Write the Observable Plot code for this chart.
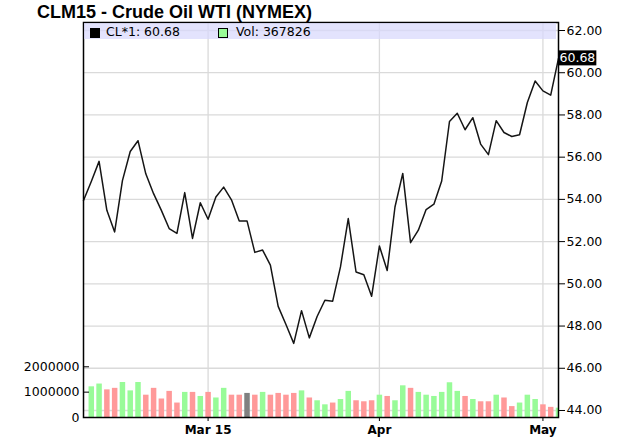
<!DOCTYPE html>
<html><head><meta charset="utf-8">
<script src="https://cdn.jsdelivr.net/npm/d3@7"></script>
<script src="https://cdn.jsdelivr.net/npm/@observablehq/plot@0.6"></script>
<style>
html,body{margin:0;padding:0;background:#fff;}
#chart{position:relative;width:620px;height:437px;overflow:hidden;}
#chart svg{position:absolute;left:0;top:0;}
.title{position:absolute;left:37px;top:3px;font:bold 18px/18px "Liberation Sans",Arial,sans-serif;color:#000;white-space:nowrap;}
.legend{position:absolute;left:84px;top:23px;width:472px;height:16px;background:rgba(216,216,252,0.72);}
.legend .sw{position:absolute;top:5px;width:8px;height:8px;border:1px solid #000;}
.legend .lt{position:absolute;top:1px;font:12.5px/16px "DejaVu Sans",sans-serif;color:#000;white-space:nowrap;}
</style></head>
<body>
<div id="chart"></div>
<script>
// ---- data ----
const titleText = "CLM15 - Crude Oil WTI (NYMEX)";
const seriesName = "CL*1";
const volumeName = "Vol";
const dates = [
 "2015-02-05","2015-02-06","2015-02-09","2015-02-10","2015-02-11","2015-02-12","2015-02-13","2015-02-17",
 "2015-02-18","2015-02-19","2015-02-20","2015-02-23","2015-02-24","2015-02-25","2015-02-26","2015-02-27",
 "2015-03-02","2015-03-03","2015-03-04","2015-03-05","2015-03-06","2015-03-09","2015-03-10","2015-03-11",
 "2015-03-12","2015-03-13","2015-03-16","2015-03-17","2015-03-18","2015-03-19","2015-03-20","2015-03-23",
 "2015-03-24","2015-03-25","2015-03-26","2015-03-27","2015-03-30","2015-03-31","2015-04-01","2015-04-02",
 "2015-04-06","2015-04-07","2015-04-08","2015-04-09","2015-04-10","2015-04-13","2015-04-14","2015-04-15",
 "2015-04-16","2015-04-17","2015-04-20","2015-04-21","2015-04-22","2015-04-23","2015-04-24","2015-04-27",
 "2015-04-28","2015-04-29","2015-04-30","2015-05-01","2015-05-04","2015-05-05"];
const closes = [
 53.95,54.85,55.80,53.48,52.46,54.89,56.27,56.78,55.21,54.27,53.48,52.62,52.39,54.32,52.15,53.84,
 53.06,54.11,54.58,53.98,52.98,52.98,51.49,51.60,50.89,48.93,48.07,47.18,48.73,47.44,48.45,49.22,
 49.18,50.80,53.09,50.56,50.43,49.41,51.79,50.63,53.64,55.23,51.95,52.54,53.52,53.77,54.87,57.69,
 58.08,57.30,57.87,56.62,56.12,57.73,57.17,56.98,57.06,58.59,59.61,59.14,58.94,60.68];
const volumes = [
 null,1210000,1320000,1090000,1150000,1380000,1050000,1380000,880000,1150000,730000,1030000,570000,990000,990000,830000,
 990000,770000,1150000,880000,880000,950000,880000,990000,880000,950000,880000,950000,1050000,770000,660000,500000,
 570000,710000,1030000,660000,620000,660000,880000,830000,660000,1250000,1150000,990000,880000,830000,990000,1370000,
 1030000,830000,710000,620000,620000,880000,770000,430000,570000,880000,710000,500000,400000,367826];
const xTickDates = ["2015-03-02","2015-04-01","2015-05-01"];
const xTickLabels = ["Mar 15","Apr","May"];
const priceTicks = [44,46,48,50,52,54,56,58,60,62];
const volumeTicks = [0,1000000,2000000];

// ---- build ----
const UP = "#98fb98", DOWN = "#ff9999", FLAT = "#808080";
const data = dates.map((date,i)=>({i, date, close:closes[i], vol:volumes[i], chg: i>0 ? closes[i]-closes[i-1] : 0}));
const xTicks = xTickDates.map(d=>dates.indexOf(d));
const W=620, H=437, mL=83, mR=62, mT=22, mB=20;
const xDomain=[0, dates.length-1];
const last = data[data.length-1];

const pricePlot = Plot.plot({
  width:W, height:H, marginLeft:mL, marginRight:mR, marginTop:mT, marginBottom:mB,
  style:{background:"transparent", fontFamily:"DejaVu Sans", fontSize:"12.5px", color:"#000", overflow:"visible"},
  x:{domain:xDomain, axis:null},
  y:{domain:[43.668, 62.379], axis:null},
  marks:[
    Plot.gridY(priceTicks,{stroke:"#dadada", strokeOpacity:1, strokeWidth:1.3}),
    Plot.gridX(xTicks,{stroke:"#dadada", strokeOpacity:1, strokeWidth:1.3}),
    Plot.line(data,{x:"i", y:"close", stroke:"#151515", strokeWidth:1.5}),
    Plot.axisY(priceTicks,{anchor:"right", label:null, tickSize:6, tickPadding:2, tickFormat:d=>d.toFixed(2), fontSize:12.5}),
    Plot.text([last],{x:"i", y:"close", text:d=>d.close.toFixed(2), textAnchor:"start", dx:1, fill:"white", fontSize:12.5, className:"lastval"})
  ]
});

const volPlot = Plot.plot({
  width:W, height:H, marginLeft:mL, marginRight:mR, marginTop:mT, marginBottom:mB,
  style:{background:"transparent", fontFamily:"DejaVu Sans", fontSize:"12.5px", color:"#000", overflow:"visible"},
  x:{domain:xDomain, axis:null},
  y:{domain:[0, 15.58e6], axis:null},
  color:{type:"identity"},
  marks:[
    Plot.ruleX(data.filter(d=>d.vol!=null),{x:"i", y1:0, y2:"vol", stroke:d=>d.chg>0?UP:d.chg<0?DOWN:FLAT, strokeWidth:5.5, clip:true}),
    Plot.axisY(volumeTicks,{anchor:"left", label:null, tickSize:-6, tickPadding:10, tickFormat:d=>String(d), fontSize:12.5}),
    Plot.axisX(xTicks,{anchor:"bottom", label:null, tickSize:4, tickPadding:3.5, tickFormat:i=>xTickLabels[xTicks.indexOf(i)], fontWeight:"bold", fontSize:12}),
    Plot.frame({stroke:"#000", strokeWidth:1.5})
  ]
});

const chart = document.getElementById("chart");
chart.appendChild(pricePlot);
chart.appendChild(volPlot);

// box behind the last-value label
const lv = pricePlot.querySelector(".lastval text");
if (lv) {
  const b = lv.getBBox();
  const r = document.createElementNS("http://www.w3.org/2000/svg","rect");
  r.setAttribute("x", b.x-1); r.setAttribute("y", b.y);
  r.setAttribute("width", b.width+2); r.setAttribute("height", b.height);
  r.setAttribute("fill","#000");
  const t = lv.getAttribute("transform");
  if (t) r.setAttribute("transform", t);
  lv.parentNode.insertBefore(r, lv);
}

// legend + title
const legend = document.createElement("div");
legend.className = "legend";
legend.innerHTML =
  `<div class="sw" style="left:6px;background:#000"></div>` +
  `<div class="lt" style="left:22px">${seriesName}: ${last.close.toFixed(2)}</div>` +
  `<div class="sw" style="left:134px;background:${UP}"></div>` +
  `<div class="lt" style="left:152px">${volumeName}: ${last.vol}</div>`;
chart.appendChild(legend);
const title = document.createElement("div");
title.className = "title";
title.textContent = titleText;
chart.appendChild(title);
</script>
</body></html>
